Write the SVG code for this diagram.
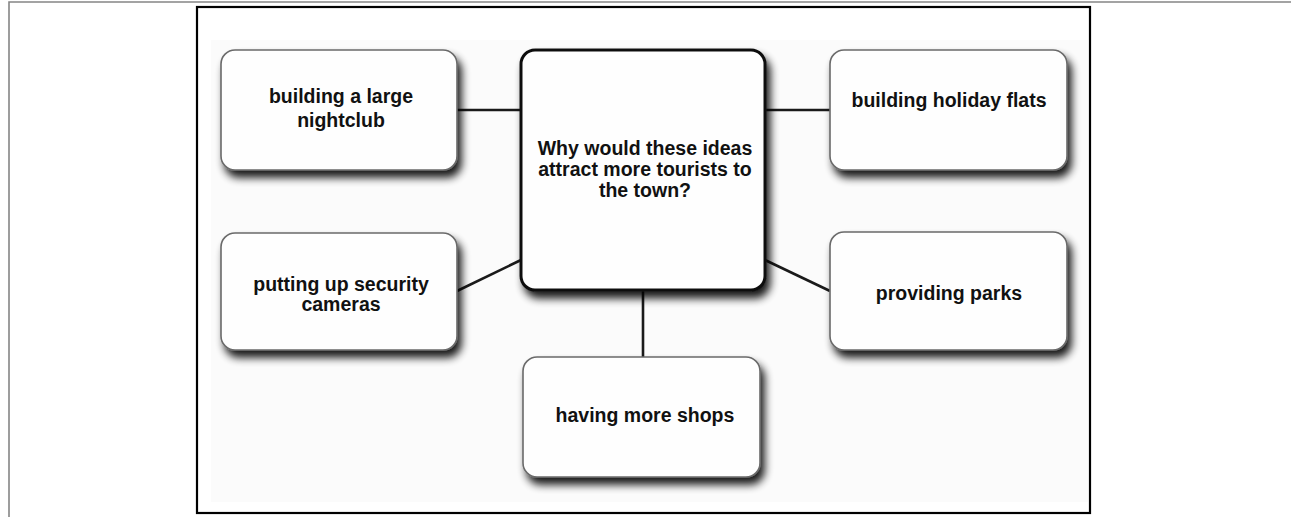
<svg xmlns="http://www.w3.org/2000/svg" width="1291" height="517" viewBox="0 0 1291 517">
<style>
.frame-outer{fill:none;stroke:#858585;stroke-width:1.6}
.frame-inner{fill:none;stroke:#000;stroke-width:2.2}
.node rect{fill:#fefefe;stroke:#6a6a6a;stroke-width:1.6;filter:url(#shadow)}
.node.center rect{stroke:#111;stroke-width:3}
.node text{font-family:"Liberation Sans",Arial,sans-serif;font-weight:bold;font-size:19.5px;fill:#111;text-anchor:middle}
.conn line{stroke:#1a1a1a;stroke-width:2.6;stroke-linecap:butt}
</style>
<defs>
<filter id="shadow" x="-10%" y="-10%" width="125%" height="140%">
<feGaussianBlur in="SourceAlpha" stdDeviation="4"/>
<feOffset dx="4" dy="7" result="b"/>
<feComponentTransfer><feFuncA type="linear" slope="0.9"/></feComponentTransfer>
<feMerge><feMergeNode/><feMergeNode in="SourceGraphic"/></feMerge>
</filter>
</defs>
<rect width="1291" height="517" fill="#fff"/>
<path class="frame-outer" d="M9,517 V2 H1291"/>
<rect x="211" y="40" width="877" height="462" fill="#fbfbfb"/>
<rect class="frame-inner" x="197" y="7" width="893" height="506"/>
<g id="connectors" class="conn">
<line x1="457" y1="110" x2="521" y2="110"/>
<line x1="765" y1="110" x2="830" y2="110"/>
<line x1="457" y1="291" x2="521" y2="260"/>
<line x1="765" y1="260" x2="830" y2="291"/>
<line x1="643" y1="290" x2="643" y2="357"/>
</g>
<g id="node-center" class="node center">
<rect x="521" y="50" width="244" height="240" rx="14"/>
<text x="645" y="155">Why would these ideas</text>
<text x="645" y="176">attract more tourists to</text>
<text x="645" y="197">the town?</text>
</g>
<g id="node-nightclub" class="node">
<rect x="221" y="50" width="236" height="120" rx="14"/>
<text x="341" y="103">building a large</text>
<text x="341" y="127">nightclub</text>
</g>
<g id="node-flats" class="node">
<rect x="830" y="50" width="237" height="120" rx="14"/>
<text x="949" y="107">building holiday flats</text>
</g>
<g id="node-cameras" class="node">
<rect x="221" y="233" width="236" height="117" rx="14"/>
<text x="341" y="291">putting up security</text>
<text x="341" y="311">cameras</text>
</g>
<g id="node-parks" class="node">
<rect x="830" y="232" width="237" height="118" rx="14"/>
<text x="949" y="300">providing parks</text>
</g>
<g id="node-shops" class="node">
<rect x="523" y="357" width="237" height="120" rx="14"/>
<text x="645" y="422">having more shops</text>
</g>
</svg>
